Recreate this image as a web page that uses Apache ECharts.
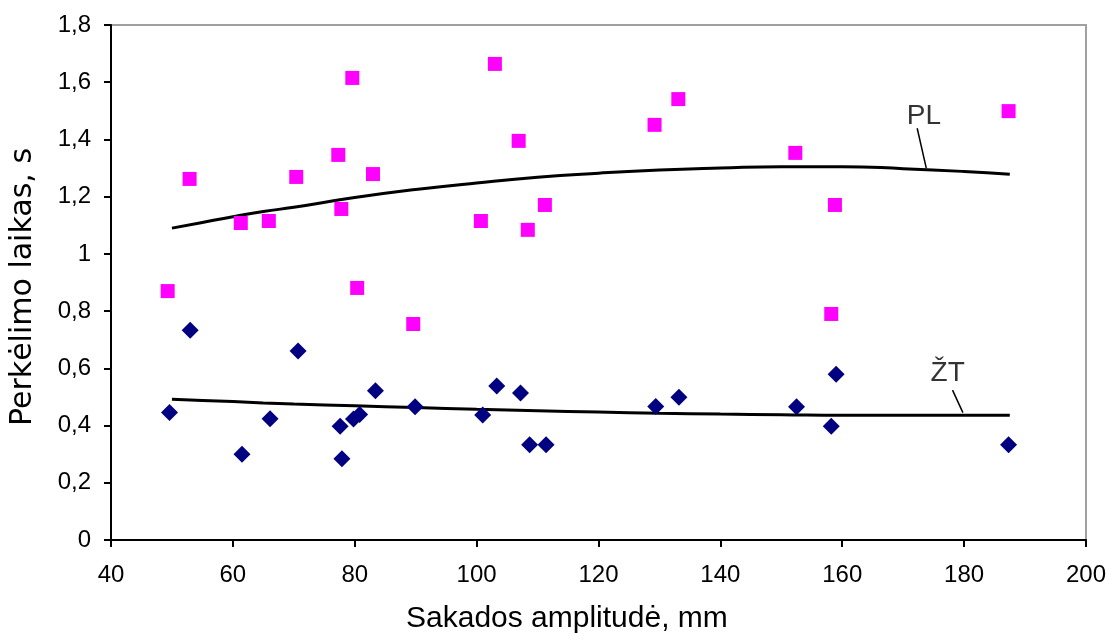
<!DOCTYPE html>
<html>
<head>
<meta charset="utf-8">
<script src="https://cdn.jsdelivr.net/npm/echarts@6/dist/echarts.min.js"></script>
<style>
  html, body { margin: 0; padding: 0; background: #fff; }
  #chart { width: 1109px; height: 639px; }
</style>
</head>
<body>
<div id="chart"></div>
<script>
// Saccade amplitude (mm) vs. transfer time (s)
const plAmplitude = [49.3, 52.9, 61.3, 65.9, 70.4, 77.3, 77.8, 79.6, 80.4, 83.0, 89.6, 100.7, 103.0, 106.9, 108.4, 111.2, 129.2, 133.1, 152.3, 158.2, 158.8, 187.3];
const plTime = [0.87, 1.262, 1.108, 1.115, 1.269, 1.346, 1.157, 1.615, 0.881, 1.279, 0.755, 1.115, 1.664, 1.395, 1.084, 1.171, 1.451, 1.541, 1.353, 0.79, 1.171, 1.499];

const ztAmplitude = [49.6, 53.0, 61.5, 66.1, 70.7, 77.6, 77.9, 79.8, 80.8, 83.4, 89.9, 101.0, 103.3, 107.2, 108.7, 111.4, 129.4, 133.2, 152.5, 158.2, 159.0, 187.3];
const ztTime = [0.446, 0.733, 0.300, 0.424, 0.661, 0.398, 0.284, 0.423, 0.439, 0.522, 0.466, 0.437, 0.538, 0.514, 0.333, 0.333, 0.467, 0.499, 0.466, 0.398, 0.579, 0.333];

// Trend curves
const trendX = [50, 55, 60, 65, 70, 80, 90, 100, 110, 120, 130, 140, 150, 160, 170, 180, 187.5];
const plTrend = [1.09, 1.11, 1.13, 1.148, 1.163, 1.197, 1.225, 1.248, 1.268, 1.282, 1.293, 1.300, 1.305, 1.305, 1.298, 1.288, 1.278];
const ztTrend = [0.492, 0.488, 0.484, 0.479, 0.475, 0.469, 0.463, 0.457, 0.452, 0.447, 0.443, 0.440, 0.438, 0.436, 0.436, 0.436, 0.436];

// Curve labels with their leader lines (data coordinates)
const curveLabels = [
  { text: 'PL', at: [173.4, 1.482], leader: [[172.3, 1.439], [173.8, 1.299]] },
  { text: 'ŽT', at: [177.3, 0.584], leader: [[178.1, 0.524], [179.8, 0.445]] }
];

const FONT = '"Liberation Sans", Arial, sans-serif';
const pairs = (xs, ys) => xs.map((x, i) => [x, ys[i]]);

const chart = echarts.init(document.getElementById('chart'));

const series = [
  {
    type: 'line', data: pairs(trendX, plTrend), smooth: true, showSymbol: false,
    lineStyle: { color: '#000', width: 3 }, z: 2, silent: true
  },
  {
    type: 'line', data: pairs(trendX, ztTrend), smooth: true, showSymbol: false,
    lineStyle: { color: '#000', width: 3 }, z: 2, silent: true
  },
  {
    type: 'scatter', data: pairs(plAmplitude, plTime), symbol: 'rect', symbolSize: 14,
    itemStyle: { color: '#FF00FF', opacity: 1 }, z: 3
  },
  {
    type: 'scatter', data: pairs(ztAmplitude, ztTime), symbol: 'diamond', symbolSize: 17,
    itemStyle: { color: '#000080', opacity: 1 }, z: 3
  }
];

curveLabels.forEach(c => {
  series.push({
    type: 'line', data: c.leader, showSymbol: false, silent: true,
    lineStyle: { color: '#000', width: 1.5 }, z: 4
  });
  series.push({
    type: 'scatter', data: [c.at], symbolSize: 0, silent: true, z: 5,
    label: {
      show: true, position: 'inside', formatter: c.text,
      fontFamily: FONT, fontSize: 28, color: '#000'
    }
  });
});

const commaFmt = v => String(Math.round(v * 10) / 10).replace('.', ',');

chart.setOption({
  animation: false,
  backgroundColor: '#fff',
  grid: {
    left: 111, right: 20, top: 25, bottom: 99,
    show: true, borderColor: '#a0a0a0', borderWidth: 2
  },
  xAxis: {
    type: 'value', min: 40, max: 200, interval: 20,
    axisLine: { show: true, onZero: false, lineStyle: { color: '#000', width: 2 } },
    axisTick: { show: true, inside: false, length: 7, lineStyle: { color: '#000', width: 2 } },
    axisLabel: { margin: 23, fontFamily: FONT, fontSize: 24, color: '#000' },
    splitLine: { show: false }
  },
  yAxis: {
    type: 'value', min: 0, max: 1.8, interval: 0.2,
    axisLine: { show: true, onZero: false, lineStyle: { color: '#000', width: 2 } },
    axisTick: { show: true, inside: false, length: 7, lineStyle: { color: '#000', width: 2 } },
    axisLabel: { margin: 20, fontFamily: FONT, fontSize: 24, color: '#000', formatter: commaFmt },
    splitLine: { show: false }
  },
  graphic: [
    {
      type: 'text', left: 406, top: 604,
      style: { text: 'Sakados amplitudė, mm', font: '30px ' + FONT, fill: '#000' }
    },
    {
      type: 'text', x: 23, y: 287, rotation: Math.PI / 2,
      style: {
        text: 'Perkėlimo laikas, s', font: '30px "DejaVu Sans", sans-serif', fill: '#000',
        align: 'center', verticalAlign: 'middle'
      }
    }
  ],
  series: series
});
</script>
</body>
</html>
